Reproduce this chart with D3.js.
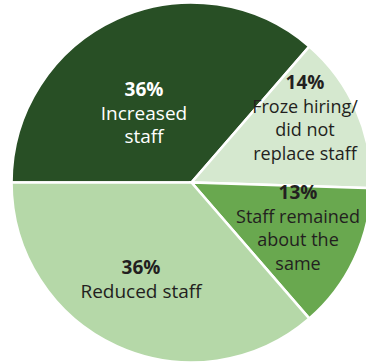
<!DOCTYPE html>
<html>
<head>
<meta charset="utf-8">
<script src="https://cdn.jsdelivr.net/npm/d3@7"></script>
<style>
  html, body { margin: 0; padding: 0; background: #fff; }
  svg { display: block; }
  text { font-family: "Open Sans", "Noto Sans", sans-serif; }
</style>
</head>
<body>
<svg id="chart" width="366" height="363"></svg>
<script>
// Change in staffing levels, share of respondents
const categories = ["Increased staff", "Froze hiring/did not replace staff", "Staff remained about the same", "Reduced staff"];
const shares = [36, 14, 13, 36];
const labelLines = [
  ["Increased", "staff"],
  ["Froze hiring/", "did not", "replace staff"],
  ["Staff remained", "about the", "same"],
  ["Reduced staff"]
];
const sliceColors = ["#284f25", "#d5e8cf", "#69a84f", "#b5d8a8"];
const textColors = ["#ffffff", "#231f20", "#231f20", "#231f20"];

// layout
const cx = 191.5, cy = 182.5, radius = 180;
const labelAnchors = [[144, 96], [305, 89], [298, 199], [141, 274]]; // baseline of the % line
const lineHeight = 23.6;

const data = categories.map((c, i) => ({ category: c, value: shares[i], lines: labelLines[i], i }));

const pie = d3.pie()
  .sort(null)
  .value(d => d.value)
  .startAngle(-Math.PI / 2)
  .endAngle(Math.PI * 1.5);

const arc = d3.arc().innerRadius(0).outerRadius(radius);

const svg = d3.select("#chart");
const g = svg.append("g").attr("transform", `translate(${cx},${cy})`);

g.selectAll("path.slice")
  .data(pie(data))
  .join("path")
  .attr("class", "slice")
  .attr("d", arc)
  .attr("fill", d => sliceColors[d.data.i])
  .attr("stroke", "#ffffff")
  .attr("stroke-width", 2.6)
  .attr("stroke-linejoin", "miter");

const labels = svg.selectAll("text.label")
  .data(data)
  .join("text")
  .attr("class", "label")
  .attr("text-anchor", "middle")
  .attr("fill", d => textColors[d.i])
  .attr("font-size", 19);

labels.each(function (d) {
  const t = d3.select(this);
  const [x, y] = labelAnchors[d.i];
  t.append("tspan")
    .attr("x", x).attr("y", y)
    .attr("font-weight", 700)
    .text(d3.format(".0f")(d.value) + "%");
  d.lines.forEach((line, k) => {
    t.append("tspan")
      .attr("x", x).attr("y", y + lineHeight * (k + 1))
      .attr("font-size", d.i === 1 || d.i === 2 ? 18 : 19)
      .text(line);
  });
});
</script>
</body>
</html>
